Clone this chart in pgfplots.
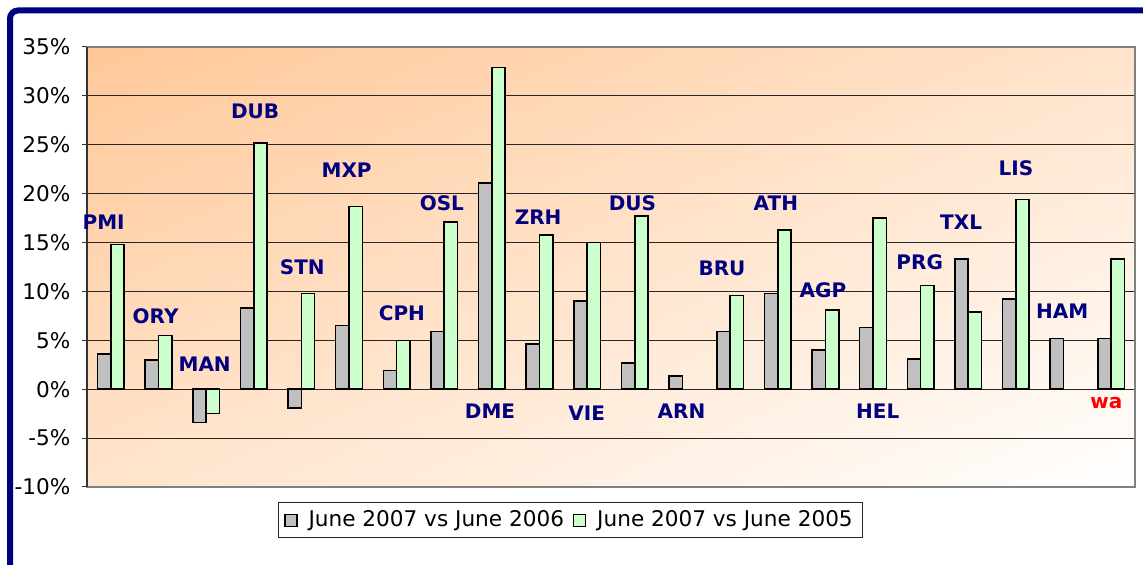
\documentclass[border=0pt]{standalone}
\usepackage{fontspec}
\setmainfont{DejaVu Sans}
\usepackage{pgfplots}
\pgfplotsset{compat=1.18}
\definecolor{navyframe}{HTML}{000080}
\definecolor{lblblue}{HTML}{000080}
\definecolor{bargray}{HTML}{C0C0C0}
\definecolor{bargreen}{HTML}{CCFFCC}
\pgfdeclarefunctionalshading{diagbg}{\pgfpointorigin}{\pgfpoint{100bp}{100bp}}{}{
  exch 25 sub 50 div exch 75 exch sub 50 div add 2 div
  dup 0 lt {pop 0} if dup 1 gt {pop 1} if
  dup 0.2157 mul 0.7843 add exch 0.4039 mul 0.5961 add 1 3 1 roll
}
\tikzset{lbl/.style={font=\bfseries\fontsize{10}{12}\selectfont, text=lblblue, inner sep=0pt, anchor=center}}
\begin{document}
\begin{tikzpicture}
\useasboundingbox (0,0) rectangle (571.5pt,282.5pt);
\fill[white] (0,0) rectangle (571.5pt,282.5pt);
\begin{scope}
\clip (0,0) rectangle (571.5pt,282.5pt);
\draw[navyframe, line width=3pt, rounded corners=4pt] (5pt,-20pt) -- (5pt,277.25pt) -- (620pt,277.25pt);
\end{scope}
\begin{axis}[
  at={(43.5pt,39pt)}, anchor=south west,
  scale only axis, width=524pt, height=220pt,
  xmin=-0.5, xmax=21.5, ymin=-10, ymax=35,
  xtick=\empty, ytick={-10,-5,...,35},
  ytick pos=left, tick align=outside, major tick length=2.5pt,
  tick style={draw=black!80, line width=0.5pt},
  yticklabel={\pgfmathprintnumber{\tick}\%},
  /pgf/number format/assume math mode=true,
  yticklabel style={font=\fontsize{10.8}{13}\selectfont, inner xsep=0pt, xshift=-5.6pt},
  ymajorgrids, grid style={draw=black!85, line width=0.5pt},
  axis line style={draw=gray, line width=1pt},
  axis background/.style={shading=diagbg},
  clip=false,
  legend columns=2,
  legend style={at={(0.4614,-0.0761)}, anchor=center, draw=black!85, line width=0.5pt,
    font=\fontsize{10.8}{13}\selectfont, inner xsep=3pt, inner ysep=2pt,
    nodes={inner sep=2pt},
    /tikz/every odd column/.append style={column sep=3.5pt},
    /tikz/every even column/.append style={column sep=2.5pt}},
]
\addplot[ybar, bar width=6.67pt, bar shift=-3.33pt, fill=bargray, draw=black, line width=0.8pt,
  legend image code/.code={\draw[fill=bargray, draw=black, line width=0.6pt] (0pt,-3pt) rectangle (6pt,3pt);}]
  coordinates {(0,3.6) (1,3.0) (2,-3.4) (3,8.3) (4,-1.9) (5,6.5) (6,1.9) (7,5.9) (8,21.1) (9,4.6) (10,9.0)
   (11,2.7) (12,1.35) (13,5.9) (14,9.8) (15,4.0) (16,6.3) (17,3.1) (18,13.3) (19,9.2) (20,5.2) (21,5.2)};
\addplot[ybar, bar width=6.67pt, bar shift=3.33pt, fill=bargreen, draw=black, line width=0.8pt,
  legend image code/.code={\draw[fill=bargreen, draw=black, line width=0.6pt] (0pt,-3pt) rectangle (6pt,3pt);}]
  coordinates {(0,14.8) (1,5.5) (2,-2.5) (3,25.2) (4,9.8) (5,18.7) (6,5.0) (7,17.1) (8,32.9) (9,15.8) (10,15.0)
   (11,17.7) (13,9.6) (14,16.3) (15,8.1) (16,17.5) (17,10.6) (18,7.9) (19,19.4) (21,13.3)};
\legend{June 2007 vs June 2006, June 2007 vs June 2005}
\draw[black!80, line width=0.6pt] (rel axis cs:0,0) -- (rel axis cs:0,1);
\node[lbl] at (axis cs:-0.15,17.1) {PMI};
\node[lbl] at (axis cs:0.94,7.49) {ORY};
\node[lbl] at (axis cs:1.97,2.58) {MAN};
\node[lbl] at (axis cs:3.03,28.45) {DUB};
\node[lbl] at (axis cs:4.02,12.5) {STN};
\node[lbl] at (axis cs:4.95,22.4) {MXP};
\node[lbl] at (axis cs:6.11,7.76) {CPH};
\node[lbl] at (axis cs:6.95,19.04) {OSL};
\node[lbl] at (axis cs:7.96,-2.2) {DME};
\node[lbl] at (axis cs:8.97,17.64) {ZRH};
\node[lbl] at (axis cs:9.99,-2.43) {VIE};
\node[lbl] at (axis cs:10.95,19.04) {DUS};
\node[lbl] at (axis cs:11.98,-2.3) {ARN};
\node[lbl] at (axis cs:12.83,12.32) {BRU};
\node[lbl] at (axis cs:13.96,19.04) {ATH};
\node[lbl] at (axis cs:14.95,10.15) {AGP};
\node[lbl] at (axis cs:16.1,-2.3) {HEL};
\node[lbl] at (axis cs:16.98,12.98) {PRG};
\node[lbl] at (axis cs:17.85,17.13) {TXL};
\node[lbl] at (axis cs:19.0,22.65) {LIS};
\node[lbl] at (axis cs:19.97,8.0) {HAM};
\node[lbl, text=red] at (axis cs:20.9,-1.44) {wa};
\end{axis}
\end{tikzpicture}
\end{document}
